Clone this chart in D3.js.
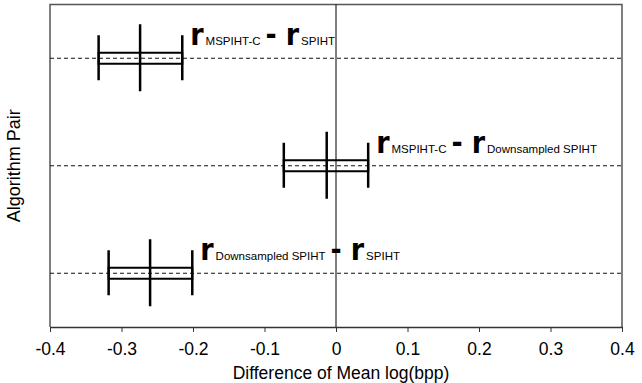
<!DOCTYPE html>
<html lang="en">
<head>
  <meta charset="UTF-8">
  <title>Algorithm pair differences</title>
  <style>
    body { margin: 0; background: #fff; }
    svg { display: block; font-family: "Liberation Sans", Arial, sans-serif; }
    .big { font-family: "DejaVu Sans Condensed", "DejaVu Sans", sans-serif; font-stretch: condensed; font-weight: bold; }
  </style>
</head>
<body>
<svg id="chart"></svg>
<script src="https://cdn.jsdelivr.net/npm/d3@7/dist/d3.min.js"></script>
<script>
// data, bottom row first
const pairs = ['DS-SPIHT', 'MSPIHTC-DS', 'MSPIHTC-SPIHT'];
const firstAlg = ['Downsampled SPIHT', 'MSPIHT-C', 'MSPIHT-C'];
const secondAlg = ['SPIHT', 'Downsampled SPIHT', 'SPIHT'];
const meanDiff = [-0.260, -0.013, -0.274];
const lowerCI = [-0.318, -0.073, -0.332];
const upperCI = [-0.201, 0.045, -0.215];
const xTicks = [-0.4, -0.3, -0.2, -0.1, 0, 0.1, 0.2, 0.3, 0.4];

const width = 642;
const height = 383;
const m = {top: 4.5, right: 20, bottom: 56, left: 50};

const svg = d3.select('#chart')
  .attr('width', width)
  .attr('height', height);

const x = d3.scaleLinear()
  .domain([-0.4, 0.4])
  .range([m.left, width - m.right]);

const y = d3.scalePoint()
  .domain(pairs)
  .range([height - m.bottom, m.top])
  .padding(0.5);

const rows = pairs.map((p, i) => ({
  key: p, a: firstAlg[i], b: secondAlg[i],
  mean: meanDiff[i], lo: lowerCI[i], hi: upperCI[i]
}));

// frame (top, left, right)
svg.append('path')
  .attr('d', `M${x(-0.4)},${height - m.bottom} V${m.top} H${x(0.4)} V${height - m.bottom}`)
  .attr('fill', 'none')
  .attr('stroke', '#555')
  .attr('stroke-width', 1.5);

// dashed reference lines
svg.append('g')
  .selectAll('line')
  .data(rows)
  .enter()
  .append('line')
  .attr('x1', x(-0.4))
  .attr('x2', x(0.4))
  .attr('y1', d => y(d.key))
  .attr('y2', d => y(d.key))
  .attr('stroke', '#111')
  .attr('stroke-width', 1)
  .attr('stroke-dasharray', '4,3');

// zero line
svg.append('line')
  .attr('x1', x(0)).attr('x2', x(0))
  .attr('y1', m.top).attr('y2', height - m.bottom)
  .attr('stroke', '#000')
  .attr('stroke-width', 1);

// x axis
const xAxis = svg.append('g')
  .attr('transform', `translate(0,${height - m.bottom})`)
  .call(d3.axisBottom(x)
    .tickValues(xTicks)
    .tickSize(5)
    .tickSizeOuter(0)
    .tickPadding(10.5)
    .tickFormat(d => d === 0 ? '0' : d.toFixed(1)));
xAxis.select('.domain').attr('stroke', '#333').attr('stroke-width', 1.5);
xAxis.selectAll('.tick line').attr('stroke', '#333').attr('stroke-width', 1);
xAxis.selectAll('.tick text')
  .attr('font-size', 17.5)
  .attr('font-family', '"Liberation Sans", Arial, sans-serif')
  .attr('fill', '#000');

svg.append('text')
  .attr('x', x(0) + 5)
  .attr('y', 379)
  .attr('text-anchor', 'middle')
  .attr('font-size', 17.5)
  .text('Difference of Mean log(bpp)');

svg.append('text')
  .attr('transform', `translate(20,${(m.top + height - m.bottom) / 2}) rotate(-90)`)
  .attr('text-anchor', 'middle')
  .attr('font-size', 18)
  .text('Algorithm Pair');

// interval marks
const g = svg.append('g').attr('stroke', '#000').attr('fill', 'none');
const marks = g.selectAll('g').data(rows).enter().append('g');

marks.append('rect')
  .attr('x', d => x(d.lo))
  .attr('width', d => x(d.hi) - x(d.lo))
  .attr('y', d => y(d.key) - 5.5)
  .attr('height', 11)
  .attr('stroke-width', 2);

marks.selectAll('.whisker')
  .data(d => [d.lo, d.hi].map(v => ({v, c: y(d.key)})))
  .enter()
  .append('line')
  .attr('class', 'whisker')
  .attr('x1', e => x(e.v)).attr('x2', e => x(e.v))
  .attr('y1', e => e.c - 23).attr('y2', e => e.c + 22)
  .attr('stroke-width', 2.5);

marks.append('line')
  .attr('x1', d => x(d.mean)).attr('x2', d => x(d.mean))
  .attr('y1', d => y(d.key) - 34).attr('y2', d => y(d.key) + 33)
  .attr('stroke-width', 2.5);

// pair labels: r_A - r_B
const labels = svg.append('g')
  .selectAll('text')
  .data(rows)
  .enter()
  .append('text')
  .attr('x', d => x(d.hi) + 8)
  .attr('y', d => y(d.key) - 13)
  .attr('fill', '#000');

labels.append('tspan').attr('class', 'big').attr('font-size', 30).text('r');
labels.append('tspan').attr('font-size', 11.5).attr('dx', 2).text(d => d.a);
labels.append('tspan').attr('class', 'big').attr('font-size', 30).attr('dx', 5).text('-');
labels.append('tspan').attr('class', 'big').attr('font-size', 30).attr('dx', 9).text('r');
labels.append('tspan').attr('font-size', 11.5).attr('dx', 2).text(d => d.b);
</script>
</body>
</html>
